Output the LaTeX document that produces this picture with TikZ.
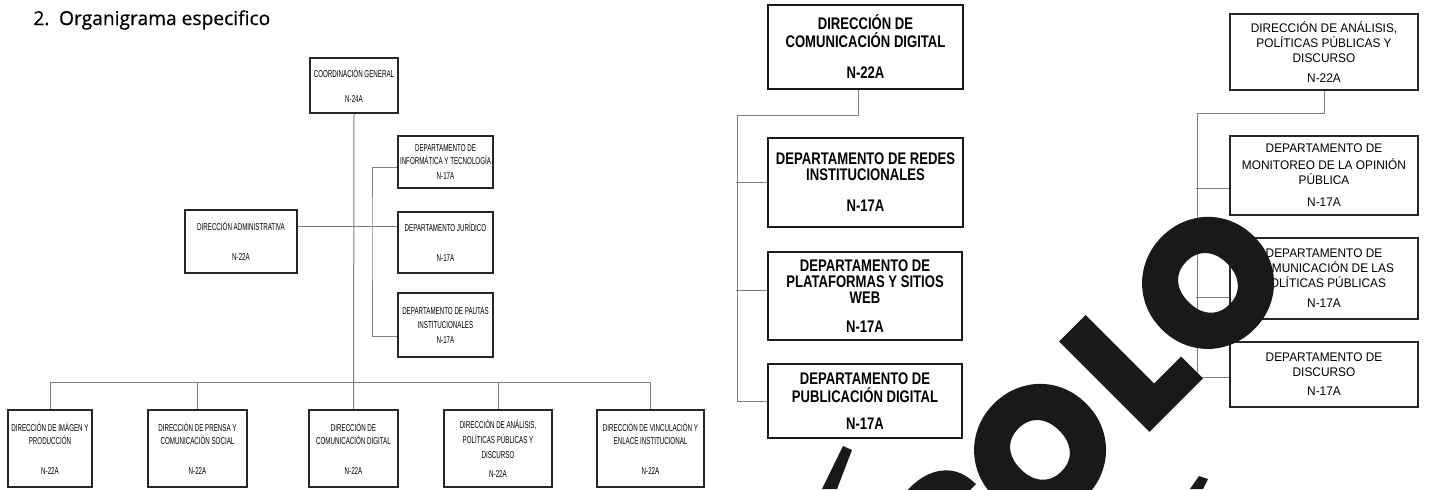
\documentclass[tikz,border=0pt]{standalone}
\usepackage{fontspec}
\setmainfont{Liberation Sans}
\newfontfamily\orgfont[FakeStretch=0.62]{Liberation Sans}
\newfontfamily\digfont[FakeStretch=0.78]{Liberation Sans Bold}
\newfontfamily\anafont[FakeStretch=0.95]{Liberation Sans}
\newfontfamily\headfont[FakeBold=0.6]{Open Sans}
\newfontfamily\stampfont[FakeBold=5]{Poppins}

\tikzset{
  orgbox/.style={draw=black!85, line width=0.8pt, align=center, inner sep=0pt,
                 font=\orgfont\fontsize{5}{6.5}\selectfont},
  digbox/.style={draw=black!90, line width=1pt, align=center, inner sep=0pt,
                 font=\digfont\fontsize{8.4}{8}\selectfont},
  anabox/.style={draw=black!85, line width=0.8pt, align=center, inner sep=0pt,
                 font=\anafont\fontsize{6.25}{7.5}\selectfont},
  link/.style={draw=black!50, line width=0.5pt},
  stamp/.style={text=black!90, rotate=45, inner sep=0pt,
                font=\stampfont\bfseries\fontsize{85}{85}\selectfont}
}

\begin{document}
\begin{tikzpicture}[x=0.5pt, y=-0.5pt]
\useasboundingbox (0,0) rectangle (1430,489);
\fill[white] (0,0) rectangle (1430,489);

% title
\node[anchor=base west, inner sep=0pt, font=\headfont\fontsize{9.6}{11}\selectfont]
  (title) at (33,25) {2.\enspace Organigrama especifico};

% general chart
\node[orgbox, minimum width=44pt, minimum height=27.5pt] (coord) at (354,85.5)
  {COORDINACIÓN GENERAL\\[6pt]N-24A};
\node[orgbox, minimum width=47.5pt, minimum height=26pt] (info) at (445.5,162)
  {DEPARTAMENTO DE\\INFORMÁTICA Y TECNOLOGÍA\\[1pt]N-17A};
\node[orgbox, minimum width=56pt, minimum height=31.5pt] (admin) at (241,241.5)
  {DIRECCIÓN ADMINISTRATIVA\\[8.5pt]N-22A};
\node[orgbox, minimum width=47.5pt, minimum height=30.5pt] (jur) at (445.5,242.5)
  {DEPARTAMENTO JURÍDICO\\[8.5pt]N-17A};
\node[orgbox, minimum width=47.5pt, minimum height=32pt] (pautas) at (445.5,325)
  {DEPARTAMENTO DE PAUTAS\\[0.5pt]INSTITUCIONALES\\[1pt]N-17A};

\node[orgbox, minimum width=42pt, minimum height=38.5pt] (imagen) at (50,448.5)
  {DIRECCIÓN DE IMÁGEN Y\\PRODUCCIÓN\\[8.5pt]N-22A};
\node[orgbox, minimum width=49.5pt, minimum height=38.5pt] (prensa) at (197.5,448.5)
  {DIRECCIÓN DE PRENSA Y\\COMUNICACIÓN SOCIAL\\[8.5pt]N-22A};
\node[orgbox, minimum width=44.5pt, minimum height=38.5pt] (comdig) at (353.5,448.5)
  {DIRECCIÓN DE\\COMUNICACIÓN DIGITAL\\[8.5pt]N-22A};
\node[orgbox, minimum width=54pt, minimum height=38.5pt] (analisis) at (498,448.5)
  {DIRECCIÓN DE ANÁLISIS,\\[1pt]POLÍTICAS PÚBLICAS Y\\[1pt]DISCURSO\\[3pt]N-22A};
\node[orgbox, minimum width=53.5pt, minimum height=38.5pt] (vinc) at (650.5,448.5)
  {DIRECCIÓN DE VINCULACIÓN Y\\ENLACE INSTITUCIONAL\\[8.5pt]N-22A};

\coordinate (bus) at (354,382);
\coordinate (tie) at (372,226);
\draw[link] (coord.south) -- (comdig.north);
\draw[link] (imagen.north) |- (bus) -| (vinc.north);
\foreach \n in {prensa,analisis}
  \draw[link] (\n.north) -- (\n.north |- bus);
\draw[link] (admin.east |- tie) -- (jur.west |- tie);
\draw[link] ([yshift=-2.5pt]info.west) -| (tie) |- ([yshift=-5.5pt]pautas.west);

% comunicacion digital
\node[digbox, minimum width=97.5pt, minimum height=42pt] (dcd) at (865.5,47)
  {DIRECCIÓN DE\\[1pt]COMUNICACIÓN DIGITAL\\[7.5pt]N-22A};
\node[digbox, minimum width=97.5pt, minimum height=44.5pt] (redes) at (865.5,182.5)
  {DEPARTAMENTO DE REDES\\INSTITUCIONALES\\[7.5pt]N-17A};
\node[digbox, minimum width=97pt, minimum height=44pt] (plat) at (865,296)
  {DEPARTAMENTO DE\\PLATAFORMAS Y SITIOS\\WEB\\[6.5pt]N-17A};
\node[digbox, minimum width=97pt, minimum height=37pt] (pub) at (865,401)
  {DEPARTAMENTO DE\\[1pt]PUBLICACIÓN DIGITAL\\[5.5pt]N-17A};

\coordinate (spineM) at (737,115);
\draw[link] ([xshift=-3.75pt]dcd.south) |- (spineM) |- (pub.west);
\draw[link] (redes.west) -- ++(-31,0);
\draw[link] ([yshift=3pt]plat.west) -- ++(-31,0);

% analisis y discurso
\node[anabox, minimum width=94pt, minimum height=38pt] (dap) at (1324,52)
  {DIRECCIÓN DE ANÁLISIS,\\POLÍTICAS PÚBLICAS Y\\DISCURSO\\[2.5pt]N-22A};
\node[anabox, minimum width=94pt, minimum height=39.5pt] (mon) at (1324,175.5)
  {DEPARTAMENTO DE\\[1pt]MONITOREO DE LA OPINIÓN\\PÚBLICA\\[3.5pt]N-17A};
\node[anabox, minimum width=94pt, minimum height=40.5pt] (com) at (1324,278.5)
  {DEPARTAMENTO DE\\COMUNICACIÓN DE LAS\\POLÍTICAS PÚBLICAS\\[2.5pt]N-17A};
\node[anabox, minimum width=94pt, minimum height=32.5pt] (disc) at (1324,374.5)
  {DEPARTAMENTO DE\\DISCURSO\\[2pt]N-17A};

\coordinate (spineR) at (1197,113);
\draw[link] (dap.south) |- (spineR) |- ([yshift=-1.25pt]disc.west);
\draw[link] ([yshift=-6.25pt]mon.west) -- ++(-33,0);
\draw[link] ([yshift=-9.25pt]com.west) -- ++(-33,0);

% watermark
\begin{scope}
  \clip (0,0) rectangle (1430,489);
  \node[stamp] (s1) at (957,533) {S};
  \node[stamp] (o1) at (1040,450) {O};
  \node[stamp] (l1) at (1128.5,362.5) {L};
  \node[stamp] (o2) at (1208,283) {O};
  \fill[black!90] (822,489) -- (837,489) -- (852,450) -- (843,446) -- cycle;
  \fill[black!90] (1190,489) -- (1203,489) -- (1208,479) -- (1199,476) -- cycle;
\end{scope}
\end{tikzpicture}
\end{document}
